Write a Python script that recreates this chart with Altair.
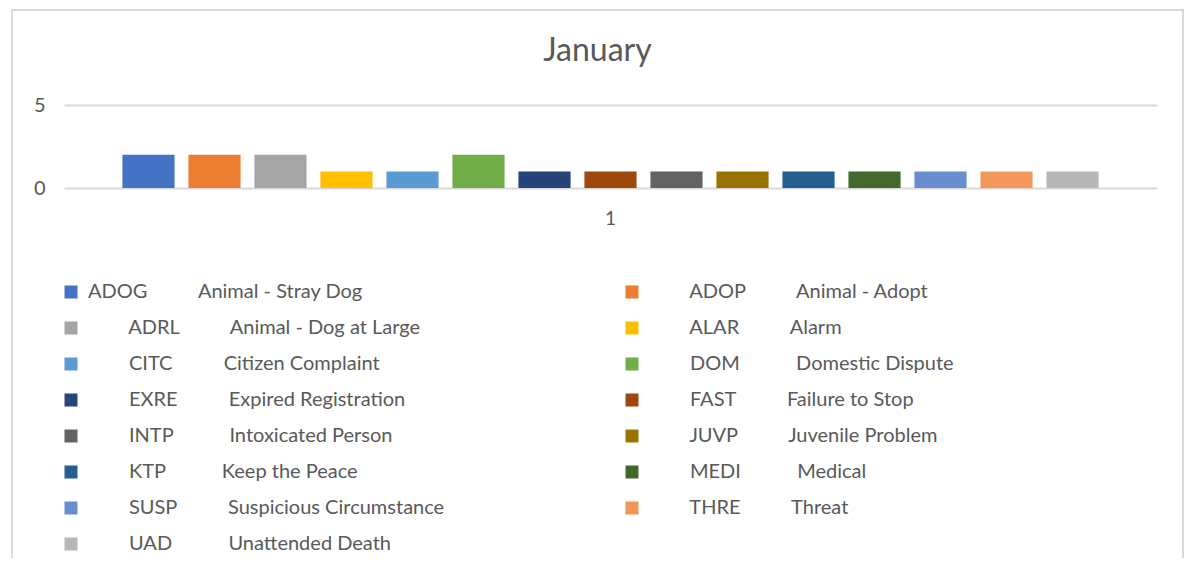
import altair as alt
import pandas as pd

FONT = "Lato"
TEXT = "#595959"
GRID = "#d9d9d9"

codes = ["ADOG", "ADOP", "ADRL", "ALAR", "CITC", "DOM", "EXRE", "FAST",
         "INTP", "JUVP", "KTP", "MEDI", "SUSP", "THRE", "UAD"]
# legend labels as they appear (runs of spaces kept)
labels = [
    "ADOG          Animal - Stray Dog",
    "        ADOP          Animal - Adopt",
    "        ADRL          Animal - Dog at Large",
    "        ALAR          Alarm",
    "        CITC          Citizen Complaint",
    "        DOM           Domestic Dispute",
    "        EXRE          Expired Registration",
    "        FAST          Failure to Stop",
    "        INTP           Intoxicated Person",
    "        JUVP          Juvenile Problem",
    "        KTP           Keep the Peace",
    "        MEDI           Medical",
    "        SUSP          Suspicious Circumstance",
    "        THRE          Threat",
    "        UAD           Unattended Death",
]
counts = [2, 2, 2, 1, 1, 2, 1, 1, 1, 1, 1, 1, 1, 1, 1]
colors = ["#4472C4", "#ED7D31", "#A5A5A5", "#FFC000", "#5B9BD5", "#70AD47",
          "#264478", "#9E480E", "#636363", "#997300", "#255E91", "#43682B",
          "#698ED0", "#F1975A", "#B7B7B7"]
category = ["1"] * len(codes)
y_ticks = [0, 5]
title_text = "January"

NB = "\u00a0"
ZW = "\u200b"
shown = [ZW + s.replace(" ", NB) for s in labels]

df = pd.DataFrame({"category": category, "code": codes, "label": shown, "count": counts})

bars = alt.Chart(df).mark_bar().encode(
    x=alt.X("category:N", title=None,
            scale=alt.Scale(paddingInner=0, paddingOuter=0.052),
            axis=alt.Axis(labelAngle=0, ticks=False, domain=False, grid=False,
                          labelPadding=21, labelFontSize=19, labelColor=TEXT, labelFont=FONT)),
    xOffset=alt.XOffset("code:N", sort=codes,
                        scale=alt.Scale(paddingInner=0.21, paddingOuter=0.105)),
    y=alt.Y("count:Q", title=None, scale=alt.Scale(domain=[0, 5], nice=False),
            axis=alt.Axis(values=y_ticks, ticks=False, domain=False, grid=True,
                          gridColor=GRID, gridWidth=2, labelPadding=19,
                          labelFontSize=20, labelColor=TEXT, labelFont=FONT)),
    color=alt.Color("label:N", sort=shown,
                    scale=alt.Scale(domain=shown, range=colors),
                    legend=alt.Legend(title=None, orient="none", legendX=-3, legendY=177,
                                      columns=2, direction="horizontal",
                                      columnPadding=177, rowPadding=16,
                                      symbolType="square", symbolSize=169,
                                      symbolStrokeWidth=0, labelOffset=7,
                                      labelFontSize=20, labelFont=FONT,
                                      labelColor=TEXT, labelLimit=700, padding=0)),
)

frame = alt.Chart(alt.Data(values=[{"f": 1}])).mark_rect(
    fill=None, stroke=GRID, strokeWidth=2
).encode(
    x=alt.value(-52), x2=alt.value(1119), y=alt.value(-95), y2=alt.value(600)
)

chart = alt.layer(frame, bars).properties(
    width=1093, height=83,
    background="white",
    padding={"left": 56, "top": 97, "right": 27, "bottom": 370},
    autosize=alt.AutoSizeParams(type="none"),
    title=alt.TitleParams(title_text, fontSize=32, font=FONT, color=TEXT,
                          fontWeight="normal", anchor="middle", frame="group",
                          dx=-13, offset=-59),
).configure_view(stroke="transparent", strokeWidth=0)

chart.save("out.html", embed_options={"renderer": "svg", "actions": False})
